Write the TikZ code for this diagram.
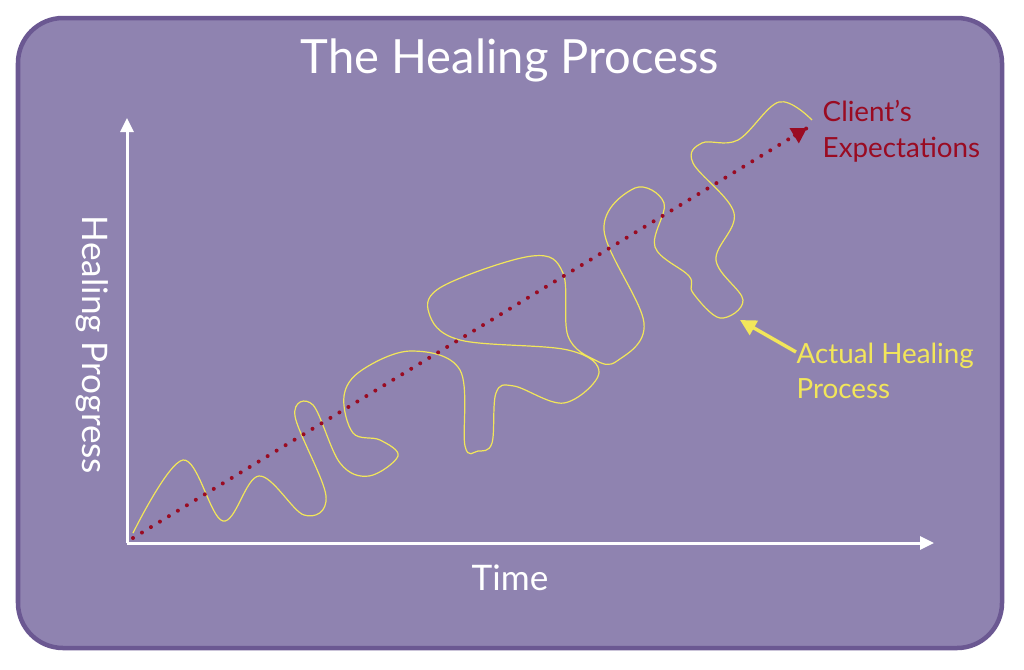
\documentclass[tikz,border=0pt]{standalone}
\usepackage{fontspec}
\setmainfont{Lato}
\usetikzlibrary{arrows.meta,positioning,calc}
\definecolor{panel}{HTML}{8F83B0}
\definecolor{rim}{HTML}{6B5892}
\definecolor{wine}{HTML}{9A0B22}
\definecolor{lemon}{HTML}{F2E65A}
\tikzset{
  axis/.style={white,line width=0.03cm,-{Triangle[length=0.14cm,width=0.13cm]}},
  lbl/.style={text=white,font=\fontsize{10pt}{12pt}\selectfont,inner sep=0pt},
  note/.style={font=\fontsize{7.9pt}{10pt}\selectfont,align=left,inner sep=0pt}
}
\begin{document}
\begin{tikzpicture}[x=0.01cm,y=-0.01cm]
   \useasboundingbox (0,0) rectangle (1024,669);
   \draw[rim,fill=panel,line width=0.045cm,rounded corners=0.45cm] (18,18) rectangle (1002,648);

   \node[text=white,font=\fontsize{13.4pt}{15pt}\selectfont,inner sep=0pt] (title) at (510,60) {The Healing Process};

   \coordinate (o) at (127,543);
   \coordinate (ytop) at (127,118);
   \coordinate (xend) at (934,543);
   \draw[axis] (o) -- (ytop);
   \draw[axis] (o) -- (xend);
   \node[lbl] (time) at (510,578) {Time};
   \node[lbl,rotate=-90] (prog) at (92,345) {Healing Progress};

   % actual healing process
   \draw[lemon,line width=0.012cm] plot[smooth,tension=0.6] coordinates {
     (133,533) (183,460) (223,521) (259,476) (304,515) (326,496) (295,416)
     (313,405) (340,463) (369,476) (398,456) (380,440) (353,433) (344,396)
     (362,370) (411,351) (460,370) (465,446) (478,451) (492,443) (496,393)
     (514,386) (564,403) (599,373) (568,350) (460,340) (429,313) (443,286)
     (532,256) (563,273) (568,336) (595,360) (617,361) (644,323) (604,230)
     (635,188) (664,203) (655,247) (689,276) (693,293) (720,318) (743,300)
     (716,260) (734,213) (693,163) (702,143) (738,140) (779,102) (812,120)};

   % client's expectations
   \coordinate (start) at (133,538);
   \coordinate (goal) at (807,128);
   \draw[wine,line width=0.04cm,line cap=round,dash pattern=on 0pt off 0.105cm] (start) -- (goal);
   \draw[wine,line width=0.03cm,-{Triangle[length=0.15cm,width=0.17cm]}] ($(goal)!0.02!(start)$) -- (goal);
   \node[note,text=wine,anchor=north west] (expect) at (822,100) {Client’s\\Expectations};

   \node[note,text=lemon,anchor=north west] (actual) at (796,342) {Actual Healing\\Process};
   \coordinate (tip) at (740,320);
   \draw[lemon,line width=0.035cm,-{Triangle[length=0.16cm,width=0.16cm]}] ([yshift=-0.1cm]actual.north west) -- (tip);
\end{tikzpicture}
\end{document}
